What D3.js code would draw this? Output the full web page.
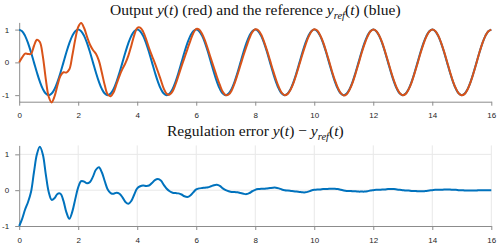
<!DOCTYPE html>
<html><head><meta charset="utf-8">
<script src="https://cdn.jsdelivr.net/npm/d3@7"></script>
<style>
html,body{margin:0;padding:0;background:#fff;}
svg{display:block;}
.tick text{font-family:"Liberation Sans",Arial,sans-serif;font-size:8px;fill:#262626;}
.title{font-family:"Liberation Serif","Times New Roman",serif;font-size:15.5px;fill:#111;}
</style></head>
<body>
<svg id="c" width="498" height="249"></svg>
<script>
// time samples (s)
const time = [
0,0.1,0.2,0.3,0.4,0.5,0.6,0.7,0.8,0.9,
1,1.1,1.2,1.3,1.4,1.5,1.6,1.7,1.8,1.9,
2,2.1,2.2,2.3,2.4,2.5,2.6,2.7,2.8,2.9,
3,3.1,3.2,3.3,3.4,3.5,3.6,3.7,3.8,3.9,
4,4.1,4.2,4.3,4.4,4.5,4.6,4.7,4.8,4.9,
5,5.1,5.2,5.3,5.4,5.5,5.6,5.7,5.8,5.9,
6,6.1,6.2,6.3,6.4,6.5,6.6,6.7,6.8,6.9,
7,7.1,7.2,7.3,7.4,7.5,7.6,7.7,7.8,7.9,
8,8.1,8.2,8.3,8.4,8.5,8.6,8.7,8.8,8.9,
9,9.1,9.2,9.3,9.4,9.5,9.6,9.7,9.8,9.9,
10,10.1,10.2,10.3,10.4,10.5,10.6,10.7,10.8,10.9,
11,11.1,11.2,11.3,11.4,11.5,11.6,11.7,11.8,11.9,
12,12.1,12.2,12.3,12.4,12.5,12.6,12.7,12.8,12.9,
13,13.1,13.2,13.3,13.4,13.5,13.6,13.7,13.8,13.9,
14,14.1,14.2,14.3,14.4,14.5,14.6,14.7,14.8,14.9,
15,15.1,15.2,15.3,15.4,15.5,15.6,15.7,15.8,15.9,
16];
// reference y_ref(t) (blue)
const yRef = [
1,0.951,0.809,0.588,0.309,0,-0.309,-0.588,-0.809,-0.951,-1,-0.951,-0.809,-0.588,-0.309,0,0.309,0.588,0.809,0.951,
1,0.951,0.809,0.588,0.309,0,-0.309,-0.588,-0.809,-0.951,-1,-0.951,-0.809,-0.588,-0.309,0,0.309,0.588,0.809,0.951,
1,0.951,0.809,0.588,0.309,0,-0.309,-0.588,-0.809,-0.951,-1,-0.951,-0.809,-0.588,-0.309,0,0.309,0.588,0.809,0.951,
1,0.951,0.809,0.588,0.309,0,-0.309,-0.588,-0.809,-0.951,-1,-0.951,-0.809,-0.588,-0.309,0,0.309,0.588,0.809,0.951,
1,0.951,0.809,0.588,0.309,0,-0.309,-0.588,-0.809,-0.951,-1,-0.951,-0.809,-0.588,-0.309,0,0.309,0.588,0.809,0.951,
1,0.951,0.809,0.588,0.309,0,-0.309,-0.588,-0.809,-0.951,-1,-0.951,-0.809,-0.588,-0.309,0,0.309,0.588,0.809,0.951,
1,0.951,0.809,0.588,0.309,0,-0.309,-0.588,-0.809,-0.951,-1,-0.951,-0.809,-0.588,-0.309,0,0.309,0.588,0.809,0.951,
1,0.951,0.809,0.588,0.309,0,-0.309,-0.588,-0.809,-0.951,-1,-0.951,-0.809,-0.588,-0.309,0,0.309,0.588,0.809,0.951,
1];
// regulation error y(t) - y_ref(t)
const err = [
-1,-0.8,-0.54,-0.33,-0.05,0.5,1.0,1.21,1.0,0.45,
-0.05,-0.27,-0.22,-0.1,-0.1,-0.3,-0.62,-0.8,-0.6,-0.25,
0.08,0.25,0.24,0.19,0.23,0.38,0.57,0.64,0.5,0.25,
0.02,-0.08,-0.1,-0.07,-0.1,-0.2,-0.33,-0.38,-0.3,-0.12,
0.05,0.11,0.13,0.12,0.13,0.2,0.28,0.31,0.27,0.15,
0.04,-0.03,-0.07,-0.08,-0.09,-0.12,-0.17,-0.19,-0.15,-0.06,
0.02,0.05,0.06,0.07,0.08,0.11,0.14,0.15,0.12,0.05,
0,-0.03,-0.05,-0.05,-0.06,-0.08,-0.1,-0.11,-0.08,-0.03,
0.01,0.03,0.04,0.04,0.05,0.06,0.07,0.07,0.05,0.02,
0,-0.01,-0.02,-0.03,-0.04,-0.05,-0.06,-0.06,-0.04,-0.01,
0.01,0.02,0.02,0.03,0.03,0.04,0.04,0.04,0.03,0.01,
-0.01,-0.02,-0.02,-0.03,-0.03,-0.04,-0.04,-0.04,-0.03,-0.01,
0,0.01,0.01,0.02,0.02,0.03,0.03,0.03,0.02,0.01,
0,-0.01,-0.01,-0.02,-0.02,-0.03,-0.03,-0.03,-0.02,-0.01,
0,0.01,0.01,0.01,0.02,0.02,0.02,0.01,0.01,0,
0,-0.01,-0.01,-0.01,-0.01,-0.01,0,0,0,0,
0];
// output y(t) (red) = reference + error
const yOut = yRef.map((v,i)=>v+err[i]);

const xTicks = [0,2,4,6,8,10,12,14,16];
const yTicks = [-1,0,1];

const svg = d3.select("#c");
const BLUE = "#0072BD", RED = "#D95319", AX = "#8c8c8c", GRID = "#e8e8e8";

const x = d3.scaleLinear().domain([0,16]).range([19.2,491.3]);
const yTop = d3.scaleLinear().domain([-1.2,1.22]).range([101.7,22.4]);
const yBot = d3.scaleLinear().domain([-1,1.25]).range([226,145.4]);

function drawAxes(y, grid){
  const g = svg.append("g");
  if(grid){
    g.selectAll(".vg").data(xTicks.slice(1)).join("line")
      .attr("x1",d=>x(d)).attr("x2",d=>x(d)).attr("y1",y.range()[0]).attr("y2",y.range()[1])
      .attr("stroke",GRID).attr("stroke-width",1);
    g.selectAll(".hg").data(yTicks.slice(1)).join("line")
      .attr("x1",x.range()[0]).attr("x2",x.range()[1]).attr("y1",d=>y(d)).attr("y2",d=>y(d))
      .attr("stroke",GRID).attr("stroke-width",1);
  }
  const xa = g.append("g").attr("transform",`translate(0,${y.range()[0]})`)
    .call(d3.axisBottom(x).tickValues(xTicks).tickSize(4).tickPadding(7).tickSizeOuter(0));
  const ya = g.append("g").attr("transform",`translate(${x.range()[0]},0)`)
    .call(d3.axisLeft(y).tickValues(yTicks).tickSize(4).tickPadding(6).tickSizeOuter(0).tickFormat(d3.format("d")));
  [xa,ya].forEach(a=>{
    a.select(".domain").attr("stroke",AX);
    a.selectAll(".tick line").attr("stroke",AX);
  });
  ya.selectAll(".tick text").text(d=>d<0?"-"+Math.abs(d):d);
}
drawAxes(yTop,false);
drawAxes(yBot,true);

const lineTop = (arr)=> d3.line().curve(d3.curveCatmullRom.alpha(0.5))
  .x((d,i)=>x(time[i])).y(d=>yTop(d))(arr);
svg.append("path").attr("d",lineTop(yRef)).attr("fill","none").attr("stroke",BLUE).attr("stroke-width",2);
svg.append("path").attr("d",lineTop(yOut)).attr("fill","none").attr("stroke",RED).attr("stroke-width",2);

const lineBot = d3.line().curve(d3.curveCatmullRom.alpha(0.5))
  .x((d,i)=>x(time[i])).y(d=>yBot(d));
svg.append("path").attr("d",lineBot(err)).attr("fill","none").attr("stroke",BLUE).attr("stroke-width",2);

// titles
function title(yPos, parts){
  const t = svg.append("text").attr("class","title").attr("x",(x.range()[0]+x.range()[1])/2)
    .attr("y",yPos).attr("text-anchor","middle");
  parts.forEach(p=>{
    const s = t.append("tspan").text(p.t);
    if(p.i) s.attr("font-style","italic");
    if(p.sub) s.attr("font-size","10.5px").attr("baseline-shift","-3.5");
  });
}
title(15,[{t:"Output "},{t:"y",i:1},{t:"("},{t:"t",i:1},{t:") (red) and the reference "},{t:"y",i:1},{t:"ref",i:1,sub:1},{t:"("},{t:"t",i:1},{t:") (blue)"}]);
title(135.5,[{t:"Regulation error "},{t:"y",i:1},{t:"("},{t:"t",i:1},{t:") − "},{t:"y",i:1},{t:"ref",i:1,sub:1},{t:"("},{t:"t",i:1},{t:")"}]);
</script>
</body></html>
